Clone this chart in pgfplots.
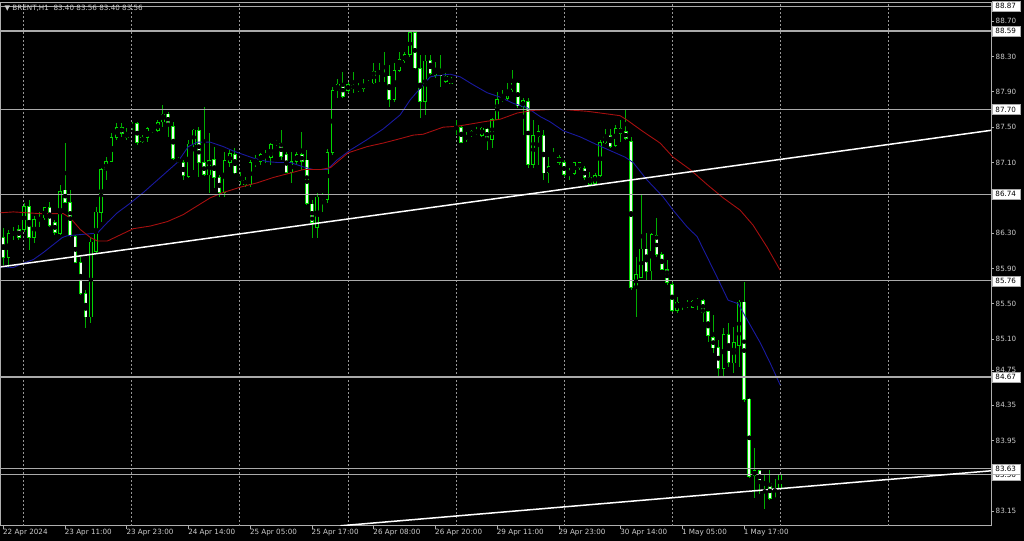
\documentclass[border=0pt]{standalone}
\usepackage{fontspec}
\setmainfont{DejaVu Sans}
\usepackage{pgfplots}
\usepackage{pgfplotstable}
\pgfplotsset{compat=1.18}

\definecolor{wickc}{RGB}{0,175,0}
\definecolor{bodyc}{RGB}{0,215,0}
\definecolor{bearc}{RGB}{240,255,240}
\definecolor{mablue}{RGB}{25,25,160}
\definecolor{mared}{RGB}{165,15,15}
\definecolor{hlinec}{RGB}{170,170,170}
\definecolor{framec}{RGB}{175,175,175}
\definecolor{txtc}{RGB}{205,205,205}
\definecolor{gridc}{RGB}{150,150,150}

\newcommand{\lbl}{\fontsize{7.2}{8.5}\selectfont}

\pgfplotstableread{
i O H L C
0 86.25 86.36 85.94 86.02
1 86.02 86.34 85.92 86.30
2 86.28 86.37 86.22 86.31
3 86.34 86.39 86.22 86.25
4 86.34 86.64 86.31 86.60
5 86.60 86.68 86.11 86.25
6 86.25 86.49 86.19 86.45
7 86.45 86.54 86.37 86.47
8 86.47 86.60 86.45 86.59
9 86.59 86.65 86.37 86.39
10 86.42 86.45 86.28 86.31
11 86.30 86.85 86.28 86.77
12 86.79 87.32 86.64 86.65
13 86.65 86.79 86.26 86.28
14 86.26 86.28 85.96 85.97
15 85.97 86.03 85.60 85.62
16 85.62 85.66 85.23 85.35
17 85.35 86.26 85.28 86.20
18 86.09 86.60 86.08 86.54
19 86.53 87.04 86.42 87.02
20 87.02 87.16 86.90 87.11
21 87.11 87.43 87.10 87.38
22 87.38 87.55 87.36 87.50
23 87.50 87.55 87.39 87.43
24 87.43 87.49 87.36 87.38
25 87.50 87.56 87.47 87.53
26 87.54 87.56 87.30 87.33
27 87.38 87.41 87.32 87.34
28 87.38 87.50 87.33 87.49
29 87.48 87.50 87.43 87.47
30 87.46 87.58 87.45 87.55
31 87.56 87.75 87.50 87.65
32 87.65 87.67 87.39 87.53
33 87.51 87.56 87.13 87.15
34 87.14 87.16 87.10 87.11
35 87.10 87.13 86.90 86.95
36 86.94 87.36 86.93 87.31
37 87.30 87.48 87.02 87.47
38 87.46 87.50 86.93 87.10
39 87.10 87.73 86.95 86.96
40 86.96 87.43 86.76 87.12
41 87.13 87.28 86.81 86.93
42 86.93 86.96 86.71 86.76
43 86.76 87.22 86.71 87.12
44 87.10 87.24 87.05 87.20
45 87.19 87.26 86.97 86.98
46 86.93 86.99 86.85 86.90
47 86.90 86.94 86.82 86.85
48 86.85 87.13 86.82 87.10
49 87.08 87.19 87.05 87.11
50 87.11 87.21 87.07 87.19
51 87.19 87.24 87.10 87.17
52 87.16 87.32 87.07 87.30
53 87.31 87.36 87.29 87.33
54 87.32 87.47 87.13 87.17
55 87.19 87.22 86.98 86.99
56 86.99 87.22 86.87 87.11
57 87.11 87.22 87.07 87.19
58 87.19 87.45 87.02 87.11
59 87.13 87.24 86.62 86.64
60 86.63 86.68 86.25 86.42
61 86.36 86.76 86.25 86.71
62 86.72 86.76 86.54 86.69
63 86.68 87.25 86.64 87.21
64 87.21 87.96 87.19 87.92
65 87.92 88.04 87.83 87.99
66 87.99 88.13 87.83 87.85
67 87.92 88.01 87.89 87.98
68 87.97 88.13 87.89 87.94
69 87.94 88.00 87.90 87.93
70 87.94 88.04 87.90 87.99
71 87.97 88.04 87.96 88.00
72 88.00 88.23 87.99 88.13
73 88.13 88.23 88.01 88.11
74 88.11 88.35 88.01 88.08
75 88.08 88.20 87.73 87.81
76 87.81 88.23 87.79 88.14
77 88.14 88.35 88.13 88.27
78 88.25 88.35 88.23 88.32
79 88.32 88.59 88.30 88.57
80 88.57 88.58 88.16 88.17
81 88.17 88.32 87.60 87.79
82 87.79 88.32 87.64 88.25
83 88.26 88.32 88.09 88.11
84 88.09 88.24 88.06 88.16
85 88.15 88.32 87.96 88.08
86 88.08 88.11 88.00 88.02
87 88.04 88.07 87.99 88.00
88 87.48 87.58 87.41 87.50
89 87.50 87.53 87.32 87.33
90 87.36 87.45 87.33 87.40
91 87.40 87.47 87.39 87.45
92 87.46 87.50 87.41 87.43
93 87.41 87.50 87.39 87.49
94 87.48 87.49 87.24 87.36
95 87.36 87.60 87.26 87.59
96 87.59 87.90 87.58 87.81
97 87.80 87.92 87.79 87.84
98 87.83 88.00 87.81 87.92
99 87.92 88.15 87.90 88.00
100 88.00 88.01 87.72 87.74
101 87.73 87.83 87.41 87.80
102 87.79 87.83 87.04 87.08
103 87.08 87.58 87.04 87.41
104 87.39 87.53 87.07 87.45
105 87.41 87.47 86.90 86.98
106 86.98 87.16 86.87 87.05
107 87.16 87.26 87.13 87.15
108 87.16 87.19 87.07 87.10
109 87.10 87.13 86.94 86.96
110 86.99 87.04 86.90 86.98
111 86.98 87.11 86.96 87.10
112 87.10 87.11 87.02 87.04
113 87.03 87.06 86.90 86.93
114 86.85 86.99 86.83 86.93
115 86.86 86.98 86.85 86.95
116 86.95 87.36 86.94 87.33
117 87.32 87.48 87.31 87.40
118 87.41 87.48 87.26 87.28
119 87.29 87.53 87.28 87.49
120 87.49 87.58 87.33 87.43
121 87.45 87.71 87.36 87.37
122 87.34 87.39 85.66 85.68
123 85.68 86.03 85.35 85.83
124 85.80 86.74 85.79 86.12
125 86.12 86.30 85.77 85.87
126 85.87 86.30 85.77 86.28
127 86.27 86.47 86.03 86.06
128 86.06 86.09 85.88 85.89
129 85.89 86.00 85.71 85.74
130 85.72 85.75 85.41 85.42
131 85.42 85.58 85.40 85.52
132 85.51 85.53 85.43 85.50
133 85.50 85.54 85.45 85.48
134 85.46 85.54 85.45 85.53
135 85.52 85.57 85.43 85.54
136 85.54 85.55 85.29 85.40
137 85.41 85.42 85.07 85.14
138 85.12 85.37 84.94 85.00
139 85.00 85.09 84.67 84.77
140 84.77 85.23 84.67 85.15
141 85.15 85.28 84.78 84.83
142 84.83 85.24 84.72 85.06
143 85.03 85.54 84.78 85.52
144 85.52 85.75 84.39 84.42
145 84.42 84.43 83.53 83.54
146 83.55 83.86 83.30 83.61
147 83.61 83.62 83.34 83.47
148 83.47 83.57 83.18 83.46
149 83.47 83.62 83.28 83.29
150 83.27 83.51 83.26 83.29
151 83.40 83.56 83.40 83.56
}\candles

\begin{document}
\begin{tikzpicture}
\fill[black] (0,0) rectangle (1024pt,541pt);
\begin{axis}[
  at={(0pt,15pt)}, anchor=south west,
  scale only axis, width=991pt, height=524pt,
  xmin=-0.583, xmax=192.0, ymin=82.984, ymax=88.918,
  axis line style={framec, line width=0.8pt},
  tick style={framec, line width=0.8pt},
  tick align=outside, major tick length=3pt,
  xtick pos=bottom, ytick pos=right, yticklabel pos=right,
  xtick={0,12,...,144},
  xticklabels={22 Apr 2024, 23 Apr 11:00, 23 Apr 23:00, 24 Apr 14:00, 25 Apr 05:00, 25 Apr 17:00, 26 Apr 08:00, 26 Apr 20:00, 29 Apr 11:00, 29 Apr 23:00, 30 Apr 14:00, 1 May 05:00, 1 May 17:00},
  ytick={83.15,83.55,83.95,84.35,84.75,85.10,85.50,85.90,86.30,86.70,87.10,87.50,87.90,88.30,88.70},
  yticklabels={83.15,83.55,83.95,84.35,84.75,85.10,85.50,85.90,86.30,{},87.10,87.50,87.90,88.30,88.70},
  ticklabel style={font=\lbl, text=txtc},
  xticklabel style={anchor=north west, inner sep=0pt, xshift=-0.5pt},
  yticklabel style={anchor=west, inner sep=0pt, xshift=1.5pt},
  extra x ticks={3.9,24.9,45.9,67,88,109,130,151,172},
  extra x tick labels={},
  extra x tick style={grid=major, major tick length=0pt},
  major grid style={gridc, line width=0.8pt, dash pattern=on 2pt off 2pt},
]
% wicks
\addplot[only marks, mark=none, forget plot,
  error bars/.cd, y dir=both, y explicit, error mark=none,
  error bar style={line width=0.8pt, wickc}]
  table[x=i, y expr={(\thisrow{H}+\thisrow{L})/2}, y error expr={(\thisrow{H}-\thisrow{L})/2}]{\candles};
% body outlines
\addplot[only marks, mark=none, forget plot,
  error bars/.cd, y dir=both, y explicit, error mark=none,
  error bar style={line width=3.6pt, bodyc}]
  table[x=i, y expr={(\thisrow{O}+\thisrow{C})/2}, y error expr={abs(\thisrow{O}-\thisrow{C})/2+0.0045}]{\candles};
% bull bodies (black inside)
\addplot[only marks, mark=none, forget plot,
  restrict expr to domain={\thisrow{C}-\thisrow{O}}{0:100},
  error bars/.cd, y dir=both, y explicit, error mark=none,
  error bar style={line width=2pt, black}]
  table[x=i, y expr={(\thisrow{O}+\thisrow{C})/2}, y error expr={max(abs(\thisrow{O}-\thisrow{C})/2-0.0045,0)}]{\candles};
% bear bodies (white inside)
\addplot[only marks, mark=none, forget plot,
  restrict expr to domain={\thisrow{C}-\thisrow{O}}{-100:-0.001},
  error bars/.cd, y dir=both, y explicit, error mark=none,
  error bar style={line width=2pt, bearc}]
  table[x=i, y expr={(\thisrow{O}+\thisrow{C})/2}, y error expr={max(abs(\thisrow{O}-\thisrow{C})/2-0.0045,0)}]{\candles};

% moving averages
\addplot[mablue, line width=0.9pt] coordinates {
(-0.58,85.92) (1.94,85.91) (3.89,85.96) (5.83,86.00) (7.77,86.08) (9.72,86.17) (11.47,86.25) (12.44,86.27) (14.38,86.28) (16.32,86.29) (18.27,86.30) (20.21,86.42) (22.15,86.53) (24.68,86.64) (27.21,86.76) (29.93,86.90) (33.81,87.10) (35.95,87.28) (37.70,87.33) (40.23,87.33) (42.75,87.28) (44.69,87.23) (46.64,87.19) (48.58,87.15) (51.30,87.11) (53.25,87.10) (55.77,87.10) (58.30,87.05) (60.24,87.02) (62.96,87.02) (64.90,87.13) (67.43,87.24) (70.73,87.36) (73.84,87.48) (77.15,87.64) (79.09,87.81) (81.03,87.94) (82.98,88.07) (84.92,88.09) (86.86,88.10) (88.81,88.07) (91.33,87.98) (94.05,87.89) (96.58,87.84) (99.11,87.77) (101.83,87.72) (104.35,87.62) (106.30,87.56) (108.82,87.46) (112.13,87.39) (115.43,87.30) (118.54,87.22) (120.87,87.16) (122.42,87.10) (125.15,86.90) (128.25,86.71) (130.19,86.56) (132.92,86.37) (134.86,86.26) (136.81,86.03) (138.75,85.80) (140.89,85.54) (142.83,85.50) (144.58,85.32) (147.11,85.06) (149.05,84.83) (151.0,84.58)};
\addplot[mared, line width=0.9pt] coordinates {
(-0.58,86.53) (1.94,86.54) (4.66,86.53) (7.19,86.52) (9.72,86.52) (11.66,86.52) (13.02,86.47) (14.96,86.34) (16.91,86.25) (18.27,86.21) (20.21,86.21) (22.74,86.28) (25.26,86.35) (28.57,86.38) (31.87,86.43) (34.98,86.51) (36.34,86.56) (40.23,86.70) (42.75,86.76) (46.06,86.82) (49.36,86.87) (52.47,86.93) (55.77,86.98) (58.30,87.02) (61.60,87.02) (63.55,87.04) (67.04,87.21) (70.73,87.28) (73.84,87.32) (77.15,87.37) (79.67,87.41) (81.62,87.42) (85.50,87.50) (88.22,87.51) (93.28,87.56) (96.58,87.59) (99.88,87.66) (102.99,87.69) (106.30,87.70) (108.82,87.70) (113.49,87.68) (117.37,87.65) (119.89,87.63) (121.25,87.58) (124.36,87.45) (127.67,87.32) (130.19,87.16) (133.50,87.02) (136.81,86.85) (139.91,86.70) (143.22,86.56) (145.74,86.39) (148.47,86.14) (151.0,85.88)};

% horizontal levels
\addplot[hlinec, line width=1.2pt] coordinates {(-1,88.87) (193,88.87)};
\addplot[hlinec, line width=1.2pt] coordinates {(-1,88.59) (193,88.59)};
\addplot[hlinec, line width=1.2pt] coordinates {(-1,87.70) (193,87.70)};
\addplot[hlinec, line width=1.2pt] coordinates {(-1,86.74) (193,86.74)};
\addplot[hlinec, line width=1.2pt] coordinates {(-1,85.76) (193,85.76)};
\addplot[hlinec, line width=1.2pt] coordinates {(-1,84.67) (193,84.67)};
\addplot[hlinec, line width=1.2pt] coordinates {(-1,83.63) (193,83.63)};
\addplot[hlinec, line width=1.0pt] coordinates {(-1,83.56) (193,83.56)};

% trend lines
\addplot[white, line width=1.5pt] coordinates {(-0.583,85.917) (192.0,87.464)};
\addplot[white, line width=1.5pt] coordinates {(65.5,82.984) (192.0,83.607)};

\coordinate (b1) at (axis cs:192.0,88.87);
\coordinate (b2) at (axis cs:192.0,88.59);
\coordinate (b3) at (axis cs:192.0,87.70);
\coordinate (b4) at (axis cs:192.0,86.74);
\coordinate (b5) at (axis cs:192.0,85.76);
\coordinate (b6) at (axis cs:192.0,84.67);
\coordinate (b7) at (axis cs:192.0,83.63);
\coordinate (b8) at (axis cs:192.0,83.56);
\coordinate (tl) at (rel axis cs:0,1);
\end{axis}
\foreach \c/\v in {b1/88.87, b2/88.59, b3/87.70, b4/86.74, b5/85.76, b6/84.67, b8/83.56, b7/83.63}
  \node[fill=white, draw=hlinec, line width=0.5pt, inner sep=0pt, minimum width=28pt, minimum height=10pt, anchor=west, font=\lbl, text=black] at ([xshift=0.5pt]\c) {\v};
\node[anchor=west, font=\lbl, text=txtc, inner sep=0pt] at ([xshift=4pt, yshift=-6pt]tl) {▼ BRENT,H1\ \ 83.40 83.56 83.40 83.56};
\end{tikzpicture}
\end{document}
